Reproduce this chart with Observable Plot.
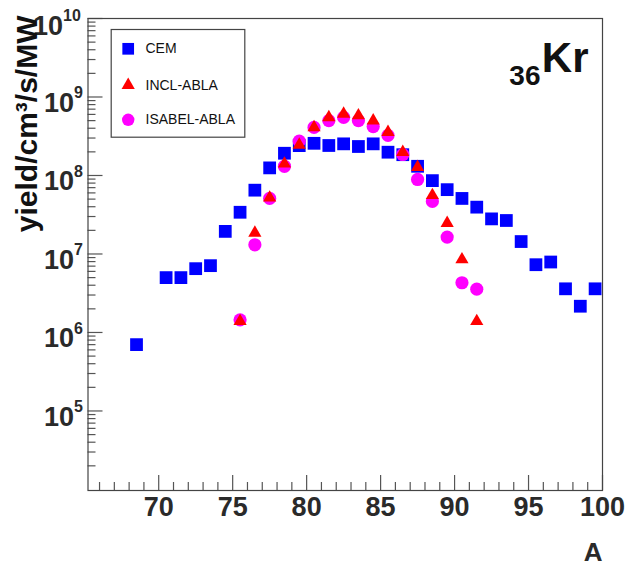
<!DOCTYPE html>
<html>
<head>
<meta charset="utf-8">
<script src="https://cdn.jsdelivr.net/npm/d3@7"></script>
<script src="https://cdn.jsdelivr.net/npm/@observablehq/plot@0.6"></script>
<style>
  html, body { margin: 0; padding: 0; background: #fff; }
  #chart { position: relative; width: 627px; height: 567px; }
</style>
</head>
<body>
<div id="chart"></div>
<script>
// ---- data ----
const cemA = [68.5, 70.5, 71.5, 72.5, 73.5, 74.5, 75.5, 76.5, 77.5, 78.5, 79.5, 80.5, 81.5, 82.5, 83.5, 84.5, 85.5, 86.5, 87.5, 88.5, 89.5, 90.5, 91.5, 92.5, 93.5, 94.5, 95.5, 96.5, 97.5, 98.5, 99.5];
const cemY = [7.0e5, 5.0e6, 5.0e6, 6.5e6, 7.1e6, 1.94e7, 3.4e7, 6.5e7, 1.25e8, 1.92e8, 2.4e8, 2.57e8, 2.41e8, 2.53e8, 2.34e8, 2.53e8, 1.98e8, 1.84e8, 1.31e8, 8.6e7, 6.6e7, 5.1e7, 3.95e7, 2.8e7, 2.67e7, 1.44e7, 7.3e6, 7.9e6, 3.6e6, 2.16e6, 3.6e6];

const inclA = [75.5, 76.5, 77.5, 78.5, 79.5, 80.5, 81.5, 82.5, 83.5, 84.5, 85.5, 86.5, 87.5, 88.5, 89.5, 90.5, 91.5];
const inclY = [1.39e6, 1.86e7, 5.2e7, 1.41e8, 2.45e8, 4.1e8, 5.5e8, 6.1e8, 5.8e8, 5.0e8, 3.56e8, 1.98e8, 1.28e8, 5.6e7, 2.47e7, 8.5e6, 1.39e6];

const isabelA = [75.5, 76.5, 77.5, 78.5, 79.5, 80.5, 81.5, 82.5, 83.5, 84.5, 85.5, 86.5, 87.5, 88.5, 89.5, 90.5, 91.5];
const isabelY = [1.45e6, 1.31e7, 5.1e7, 1.31e8, 2.74e8, 4.1e8, 5.0e8, 5.5e8, 5.0e8, 4.2e8, 3.24e8, 1.85e8, 8.9e7, 4.67e7, 1.64e7, 4.3e6, 3.56e6];

const seriesNames = ["CEM", "INCL-ABLA", "ISABEL-ABLA"];
const xMajor = [70, 75, 80, 85, 90, 95, 100];
const xMinor = [66, 67, 68, 69, 71, 72, 73, 74, 76, 77, 78, 79, 81, 82, 83, 84, 86, 87, 88, 89, 91, 92, 93, 94, 96, 97, 98, 99];
const yMajor = [1e5, 1e6, 1e7, 1e8, 1e9, 1e10];
const yMinor = [];
for (let e = 4; e <= 9; e++) for (let m = 2; m <= 9; m++) yMinor.push(m * Math.pow(10, e));

const yTitle = "yield/cm³/s/MW";
const xTitle = "A";
const elementSymbol = "Kr";
const elementZ = "36";

// ---- tables ----
const cem = cemA.map((a, i) => ({A: a, y: cemY[i]}));
const incl = inclA.map((a, i) => ({A: a, y: inclY[i]}));
const isabel = isabelA.map((a, i) => ({A: a, y: isabelY[i]}));

const font = "'Liberation Sans', Arial, Helvetica, sans-serif";
const axisColor = "#555";
const labelColor = "#2a2a2a";
const W = 627, H = 567, mL = 87.5, mR = 25, mT = 18, mB = 77;
const innerW = W - mL - mR, innerH = H - mT - mB;

const chart = Plot.plot({
  width: W, height: H,
  marginLeft: mL, marginRight: mR, marginTop: mT, marginBottom: mB,
  style: {fontFamily: font, background: "#fff", overflow: "visible"},
  x: {domain: [65.22, 100], axis: null},
  y: {type: "log", domain: [9.7e3, 1e10], axis: null},
  marks: [
    // ticks (inside the frame)
    Plot.tickY(yMajor, {y: d => d, insetRight: innerW - 15, stroke: axisColor, strokeWidth: 1.2}),
    Plot.tickY(yMinor, {y: d => d, insetRight: innerW - 8, stroke: axisColor, strokeWidth: 1.2}),
    Plot.tickX(xMajor, {x: d => d, insetTop: innerH - 15, stroke: axisColor, strokeWidth: 1.2}),
    Plot.tickX(xMinor, {x: d => d, insetTop: innerH - 8, stroke: axisColor, strokeWidth: 1.2}),
    Plot.frame({stroke: "#444", strokeWidth: 1.2}),
    // x tick labels
    Plot.text(xMajor, {x: d => d, frameAnchor: "bottom", lineAnchor: "middle", text: d => String(d), dy: 17, fontSize: 27, fontWeight: "bold", fill: labelColor}),
    // y tick labels: base and exponent
    Plot.text(yMajor, {filter: d => d < 1e10, y: d => d, frameAnchor: "left", lineAnchor: "middle", text: () => "10", textAnchor: "end", dx: -14, dy: 6, fontSize: 27, fontWeight: "bold", fill: labelColor}),
    Plot.text(yMajor, {filter: d => d < 1e10, y: d => d, frameAnchor: "left", lineAnchor: "middle", text: d => String(Math.round(Math.log10(d))), textAnchor: "start", dx: -14, dy: -4, fontSize: 16, fontWeight: "bold", fill: labelColor}),
    Plot.text(yMajor, {filter: d => d >= 1e10, y: d => d, frameAnchor: "left", lineAnchor: "middle", text: () => "10", textAnchor: "end", dx: -25, dy: 8, fontSize: 27, fontWeight: "bold", fill: labelColor}),
    Plot.text(yMajor, {filter: d => d >= 1e10, y: d => d, frameAnchor: "left", lineAnchor: "middle", text: d => String(Math.round(Math.log10(d))), textAnchor: "start", dx: -25, dy: -3, fontSize: 16, fontWeight: "bold", fill: labelColor}),
    // axis titles
    Plot.text([yTitle], {text: d => d, frameAnchor: "top-left", lineAnchor: "middle", rotate: -90, textAnchor: "end", dx: -61, dy: -3, fontSize: 30, fontWeight: "bold", fill: "#111"}),
    Plot.text([xTitle], {text: d => d, frameAnchor: "bottom-right", lineAnchor: "middle", textAnchor: "end", dy: 62, fontSize: 26, fontWeight: "bold", fill: labelColor}),
    // element label
    Plot.text([elementSymbol], {text: d => d, frameAnchor: "top-right", lineAnchor: "middle", textAnchor: "end", dx: -14, dy: 40, fontSize: 42, fontWeight: "bold", fill: "#111"}),
    Plot.text([elementZ], {text: d => d, frameAnchor: "top-right", lineAnchor: "middle", textAnchor: "end", dx: -62, dy: 58, fontSize: 28, fontWeight: "bold", fill: "#111"}),
    // data
    Plot.dot(cem, {x: "A", y: "y", symbol: "square", r: 7.2, fill: "#0000ff", stroke: "none"}),
    Plot.dot(isabel, {x: "A", y: "y", symbol: "circle", r: 6.6, fill: "#ff00ff", stroke: "none"}),
    Plot.dot(incl, {x: "A", y: "y", symbol: "triangle", r: 4.9, fill: "#ff0000", stroke: "none"}),
    // legend box
    Plot.frame({stroke: "#444", strokeWidth: 1.2, fill: "#fff", insetLeft: 23.2, insetTop: 11, insetRight: innerW - (244.3 - mL), insetBottom: innerH - (136.7 - mT)}),
    Plot.dot([seriesNames[0]], {frameAnchor: "top-left", dx: 40.2, dy: 30.3, symbol: "square", r: 6.6, fill: "#0000ff"}),
    Plot.dot([seriesNames[1]], {frameAnchor: "top-left", dx: 40.2, dy: 66.7, symbol: "triangle", r: 4.9, fill: "#ff0000"}),
    Plot.dot([seriesNames[2]], {frameAnchor: "top-left", dx: 40.2, dy: 101.3, symbol: "circle", r: 6.2, fill: "#ff00ff"}),
    Plot.text([seriesNames[0]], {text: d => d, frameAnchor: "top-left", lineAnchor: "middle", textAnchor: "start", dx: 57.5, dy: 30.3, fill: "#111", fontSize: 14}),
    Plot.text([seriesNames[1]], {text: d => d, frameAnchor: "top-left", lineAnchor: "middle", textAnchor: "start", dx: 57.5, dy: 66.7, fill: "#111", fontSize: 14}),
    Plot.text([seriesNames[2]], {text: d => d, frameAnchor: "top-left", lineAnchor: "middle", textAnchor: "start", dx: 57.5, dy: 101.3, fill: "#111", fontSize: 14})
  ]
});
document.getElementById("chart").appendChild(chart);
</script>
</body>
</html>
